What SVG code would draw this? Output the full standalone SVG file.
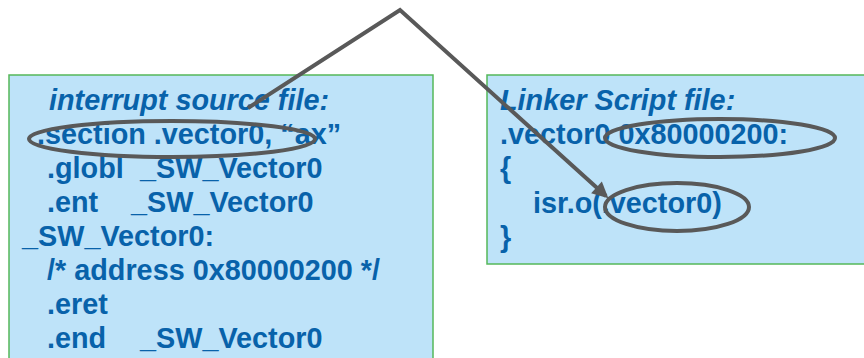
<svg xmlns="http://www.w3.org/2000/svg" width="864" height="358" viewBox="0 0 864 358">
  <style>
    .box { fill: #bee3f9; stroke: #55b85a; stroke-width: 1.5; }
    .code { font-family: "Liberation Sans", Arial, sans-serif; font-size: 28.8px; font-weight: bold; fill: #0862aa; }
    .title { font-style: italic; }
    .mark { fill: none; stroke: #595959; stroke-width: 4; }
    .link { fill: none; stroke: #595959; stroke-width: 4; stroke-linejoin: miter; }
  </style>
  <defs>
    <marker id="arrowhead" viewBox="0 0 10 10" refX="8" refY="5" markerWidth="4.5" markerHeight="4" orient="auto" markerUnits="strokeWidth">
      <path d="M0,0 L10,5 L0,10 Z" fill="#595959"/>
    </marker>
  </defs>
  <rect width="864" height="358" fill="#ffffff"/>

  <!-- interrupt source file -->
  <g id="source-file">
    <rect class="box" x="9" y="75" width="424" height="300"/>
    <text class="code title" x="49" y="110">interrupt source file:</text>
    <text class="code" x="37" y="144">.section .vector0, “ax”</text>
    <text class="code" x="47" y="178">.globl</text>
    <text class="code" x="140" y="178">_SW_Vector0</text>
    <text class="code" x="47" y="212">.ent</text>
    <text class="code" x="131" y="212">_SW_Vector0</text>
    <text class="code" x="22" y="246">_SW_Vector0:</text>
    <text class="code" x="47" y="280">/* address 0x80000200 */</text>
    <text class="code" x="47" y="314">.eret</text>
    <text class="code" x="47" y="348">.end</text>
    <text class="code" x="140" y="348">_SW_Vector0</text>
  </g>

  <!-- linker script file -->
  <g id="linker-script">
    <rect class="box" x="487" y="75" width="390" height="189"/>
    <text class="code title" x="500" y="110">Linker Script file:</text>
    <text class="code" x="500" y="144">.vector0 0x80000200:</text>
    <text class="code" x="500" y="178">{</text>
    <text class="code" x="533" y="213">isr.o(.vector0)</text>
    <text class="code" x="500" y="247">}</text>
  </g>

  <!-- highlighted names -->
  <g id="highlights">
    <ellipse class="mark" cx="172" cy="139" rx="143" ry="18"/>
    <ellipse class="mark" cx="720" cy="138" rx="115" ry="19"/>
    <ellipse class="mark" cx="677" cy="207" rx="72" ry="24"/>
  </g>

  <!-- section mapping connector -->
  <g id="connectors">
    <polyline class="link" points="248,108 400,10 606,196" marker-end="url(#arrowhead)"/>
  </g>
</svg>
